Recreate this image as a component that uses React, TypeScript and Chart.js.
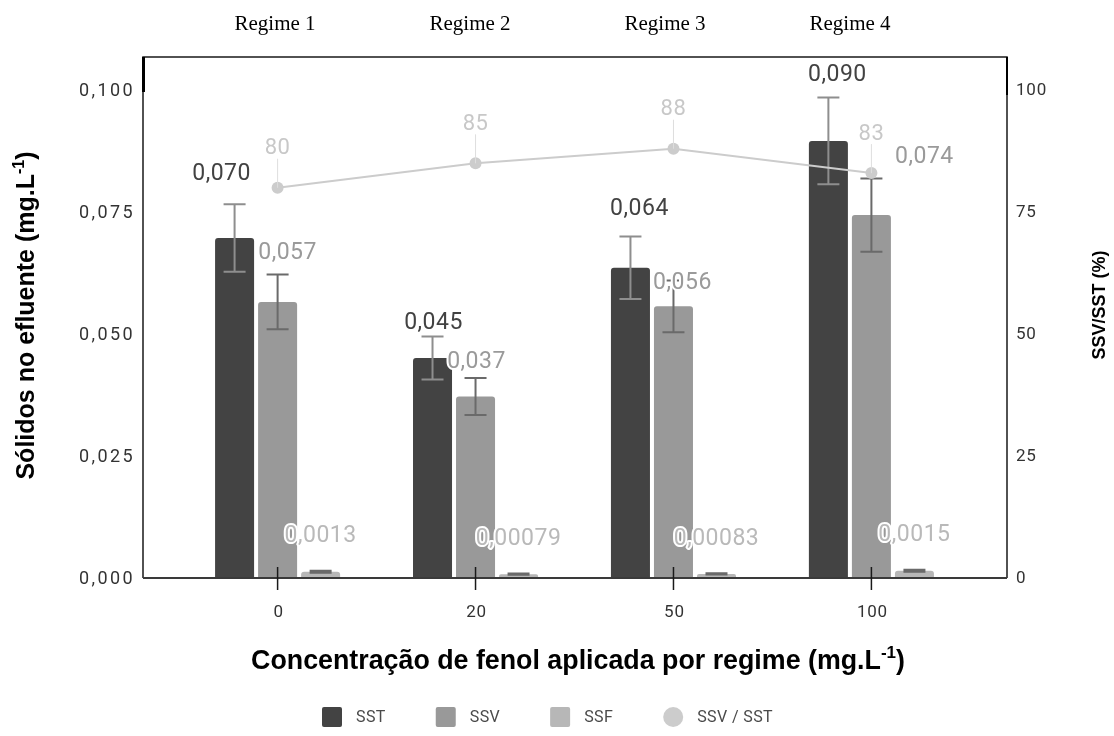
import React, { useEffect, useRef } from 'react';
import { Chart, registerables } from 'chart.js';

Chart.register(...registerables);

// ---------- data ----------
const categories = ['0', '20', '50', '100'];
const regimes = ['Regime 1', 'Regime 2', 'Regime 3', 'Regime 4'];
const sstValues = [0.0697, 0.0451, 0.0636, 0.0896];
const ssvValues = [0.0566, 0.0372, 0.0557, 0.0744];
const ssfValues = [0.0013, 0.00079, 0.00083, 0.0015];
const ratioValues = [80, 85, 88, 83];
const sstErrors = [0.0069, 0.0044, 0.0064, 0.0089];
const ssvErrors = [0.0056, 0.0038, 0.0053, 0.0075];
const ssfErrors = [0.0002, 0.00012, 0.00012, 0.0002];
const leftTicks = [0, 0.025, 0.05, 0.075, 0.1];
const rightTicks = [0, 25, 50, 75, 100];

// ---------- styles / layout ----------
const COLORS = { sst: '#434343', ssv: '#999999', ssf: '#b7b7b7', ratio: '#cccccc' };
const LABEL_COLORS = { sst: '#424242', ssv: '#9a9a9a', ssf: '#b9b9b9', ratio: '#c8c8c8' };
const ERR_COLORS = { sst: '#8e8e8e', ssv: '#6a6a6a', ssf: '#6a6a6a' };
const NUM_FONT = 'Roboto, "Noto Sans", "DejaVu Sans", sans-serif';
const TITLE_FONT = '"Liberation Sans", Arial, sans-serif';
const SERIF_FONT = '"Liberation Serif", "Times New Roman", serif';
const REGIME_X = [275, 470, 665, 850];
const SST_LABEL_SHIFT = [[-13, -31], [1, -14], [9, -28], [9, -23]];
const SSV_LABEL_SHIFT = [[10, -22], [1, -17], [9, 2], [53, -22]];

const fmtVal = (v: number) => v.toPrecision(2).replace('.', ',');
const pts = (arr: number[]) => arr.map((v, i) => ({ x: i, y: v }));

function drawRich(ctx: CanvasRenderingContext2D, parts: { t: string; sup?: boolean }[], cx: number, baseline: number, size: number) {
  const main = `bold ${size}px ${TITLE_FONT}`;
  const sup = `bold ${Math.round(size * 0.62)}px ${TITLE_FONT}`;
  let total = 0;
  const widths = parts.map((p) => {
    ctx.font = p.sup ? sup : main;
    const w = ctx.measureText(p.t).width;
    total += w;
    return w;
  });
  let x = cx - total / 2;
  ctx.textAlign = 'left';
  ctx.textBaseline = 'alphabetic';
  parts.forEach((p, i) => {
    ctx.font = p.sup ? sup : main;
    ctx.fillText(p.t, x, p.sup ? baseline - size * 0.4 : baseline);
    x += widths[i];
  });
}

function haloText(ctx: CanvasRenderingContext2D, text: string, x: number, y: number, color: string) {
  ctx.lineWidth = 4;
  ctx.lineJoin = 'round';
  ctx.strokeStyle = '#ffffff';
  ctx.strokeText(text, x, y);
  ctx.fillStyle = color;
  ctx.fillText(text, x, y);
}

const decorPlugin = {
  id: 'decor',
  afterDatasetDraw(chart: any, args: any) {
    const ds = chart.data.datasets[args.index];
    if (!ds.errors) return;
    const ctx: CanvasRenderingContext2D = chart.ctx;
    const ys = chart.scales.y;
    ctx.save();
    ctx.strokeStyle = ds.errorColor;
    ctx.lineWidth = 2;
    args.meta.data.forEach((bar: any, i: number) => {
      const v = ds.data[i].y;
      const e = ds.errors[i];
      const top = ys.getPixelForValue(v + e);
      const bot = ys.getPixelForValue(v - e);
      const half = 11;
      ctx.beginPath();
      ctx.moveTo(bar.x, top);
      ctx.lineTo(bar.x, bot);
      ctx.moveTo(bar.x - half, top);
      ctx.lineTo(bar.x + half, top);
      ctx.moveTo(bar.x - half, bot);
      ctx.lineTo(bar.x + half, bot);
      ctx.stroke();
    });
    ctx.restore();
  },
  afterDatasetsDraw(chart: any) {
    const ctx: CanvasRenderingContext2D = chart.ctx;
    const a = chart.chartArea;
    const ys = chart.scales.y;
    const y1s = chart.scales.y1;
    const xs = chart.scales.x;
    ctx.save();
    // frame
    ctx.strokeStyle = '#1a1a1a';
    ctx.lineWidth = 1.5;
    ctx.beginPath();
    ctx.moveTo(a.left, a.bottom);
    ctx.lineTo(a.left, a.top);
    ctx.lineTo(a.right, a.top);
    ctx.lineTo(a.right, a.bottom);
    ctx.stroke();
    ctx.strokeStyle = '#3a3a3a';
    ctx.lineWidth = 2;
    ctx.beginPath();
    ctx.moveTo(a.left, a.bottom);
    ctx.lineTo(a.right, a.bottom);
    ctx.stroke();
    ctx.fillStyle = '#000';
    ctx.fillRect(a.left - 1, a.top, 3, 35);
    ctx.fillRect(a.right - 1, a.top, 2, 38);
    // x tick marks crossing the axis
    ctx.strokeStyle = '#1a1a1a';
    ctx.lineWidth = 1.5;
    xs.ticks.forEach((t: any) => {
      const px = xs.getPixelForValue(t.value);
      ctx.beginPath();
      ctx.moveTo(px, a.bottom - 11);
      ctx.lineTo(px, a.bottom + 12);
      ctx.stroke();
    });

    // tick labels
    ctx.fillStyle = '#333';
    ctx.textBaseline = 'middle';
    ctx.font = `18px ${NUM_FONT}`;
    ctx.letterSpacing = '2.4px';
    ctx.textAlign = 'right';
    ys.ticks.forEach((t: any) => {
      ctx.fillText(Number(t.value).toFixed(3).replace('.', ','), a.left - 8, ys.getPixelForValue(t.value) + 1);
    });
    ctx.font = `17px ${NUM_FONT}`;
    ctx.letterSpacing = '0.8px';
    ctx.textAlign = 'left';
    y1s.ticks.forEach((t: any) => {
      ctx.fillText(String(t.value), a.right + 9, y1s.getPixelForValue(t.value) + 1);
    });
    ctx.textAlign = 'center';
    xs.ticks.forEach((t: any) => {
      ctx.fillText(categories[t.value], xs.getPixelForValue(t.value) + 1, a.bottom + 35);
    });

    // data labels
    ctx.textAlign = 'center';
    ctx.textBaseline = 'middle';
    ctx.letterSpacing = '0.5px';
    const labelSets = [
      { key: 'sst', shift: SST_LABEL_SHIFT },
      { key: 'ssv', shift: SSV_LABEL_SHIFT },
      { key: 'ssf', shift: null },
    ];
    chart.data.datasets.forEach((ds: any, di: number) => {
      const meta = chart.getDatasetMeta(di);
      if (ds.key === 'ratio') {
        ctx.font = `22px ${NUM_FONT}`;
        meta.data.forEach((p: any, i: number) => {
          ctx.strokeStyle = '#dedede';
          ctx.lineWidth = 1;
          ctx.beginPath();
          ctx.moveTo(p.x, p.y);
          ctx.lineTo(p.x, p.y - 29);
          ctx.stroke();
          haloText(ctx, String(ds.data[i].y), p.x, p.y - 39, LABEL_COLORS.ratio);
        });
        return;
      }
      const set = labelSets.find((s) => s.key === ds.key);
      if (!set) return;
      ctx.font = `23px ${NUM_FONT}`;
      meta.data.forEach((bar: any, i: number) => {
        const v = ds.data[i].y;
        const errTop = ys.getPixelForValue(v + ds.errors[i]);
        let x = bar.x;
        let y = errTop - 34;
        if (set.shift) {
          x += set.shift[i][0];
          y = errTop + set.shift[i][1] + 1;
        }
        haloText(ctx, fmtVal(v), x, y, (LABEL_COLORS as any)[ds.key]);
      });
    });
    ctx.restore();
  },
  afterDraw(chart: any) {
    const ctx: CanvasRenderingContext2D = chart.ctx;
    const a = chart.chartArea;
    ctx.save();
    ctx.letterSpacing = '0px';
    ctx.fillStyle = '#000';
    // left title
    ctx.save();
    ctx.translate(25, (a.top + a.bottom) / 2 - 2);
    ctx.rotate(-Math.PI / 2);
    drawRich(ctx, [{ t: 'Sólidos no efluente (mg.L' }, { t: '-1', sup: true }, { t: ')' }], 0, 9, 25);
    ctx.restore();
    // right title
    ctx.save();
    ctx.translate(1098, 305);
    ctx.rotate(-Math.PI / 2);
    drawRich(ctx, [{ t: 'SSV/SST (%)' }], 0, 7, 18);
    ctx.restore();
    // x title
    drawRich(ctx, [{ t: 'Concentração de fenol aplicada por regime (mg.L' }, { t: '-1', sup: true }, { t: ')' }], (a.left + a.right) / 2 + 3, 669, 26.8);
    // regime labels
    ctx.font = `21px ${SERIF_FONT}`;
    ctx.textAlign = 'center';
    ctx.textBaseline = 'alphabetic';
    regimes.forEach((r, i) => ctx.fillText(r, REGIME_X[i], 30));
    // legend
    ctx.font = `16px ${NUM_FONT}`;
    ctx.letterSpacing = '0.4px';
    ctx.textBaseline = 'middle';
    ctx.textAlign = 'left';
    let x = 322;
    const ly = 717;
    const order = ['sst', 'ssv', 'ssf', 'ratio'];
    order.forEach((k) => {
      const ds = chart.data.datasets.find((d: any) => d.key === k);
      ctx.fillStyle = (COLORS as any)[k];
      if (k === 'ratio') {
        ctx.beginPath();
        ctx.arc(x + 10, ly, 10, 0, Math.PI * 2);
        ctx.fill();
      } else {
        ctx.beginPath();
        (ctx as any).roundRect(x, ly - 10, 20, 20, 2);
        ctx.fill();
      }
      ctx.fillStyle = '#4a4a4a';
      ctx.fillText(ds.label, x + 34, ly + 1);
      x += 34 + ctx.measureText(ds.label).width + 50;
    });
    ctx.restore();
  },
};

export default function App() {
  const ref = useRef<HTMLCanvasElement>(null);
  useEffect(() => {
    const canvas = ref.current!;
    const chart = new Chart(canvas, {
      type: 'bar',
      data: {
        datasets: [
          { key: 'sst', label: 'SST', data: pts(sstValues), backgroundColor: COLORS.sst, errors: sstErrors, errorColor: ERR_COLORS.sst, yAxisID: 'y', order: 1 } as any,
          { key: 'ssv', label: 'SSV', data: pts(ssvValues), backgroundColor: COLORS.ssv, errors: ssvErrors, errorColor: ERR_COLORS.ssv, yAxisID: 'y', order: 1 } as any,
          { key: 'ssf', label: 'SSF', data: pts(ssfValues), backgroundColor: COLORS.ssf, errors: ssfErrors, errorColor: ERR_COLORS.ssf, yAxisID: 'y', order: 1 } as any,
          {
            key: 'ratio', type: 'line', label: 'SSV / SST', data: pts(ratioValues), yAxisID: 'y1', order: 0,
            borderColor: COLORS.ratio, backgroundColor: COLORS.ratio, borderWidth: 2, pointRadius: 6, pointBorderWidth: 0,
            pointBackgroundColor: COLORS.ratio,
          } as any,
        ],
      },
      options: {
        animation: false,
        responsive: true,
        maintainAspectRatio: false,
        layout: { padding: { top: 57, left: 0, right: 0, bottom: 0 } },
        datasets: {
          bar: { categoryPercentage: 0.652, barPercentage: 0.907, borderRadius: { topLeft: 3, topRight: 3 }, borderSkipped: 'bottom' } as any,
        },
        plugins: { legend: { display: false }, tooltip: { enabled: false } },
        scales: {
          x: {
            type: 'linear',
            min: -0.68,
            max: 3.685,
            offset: false,
            border: { display: false },
            grid: { display: false, offset: false, drawTicks: false },
            afterBuildTicks: (s: any) => { s.ticks = categories.map((_, i) => ({ value: i })); },
            afterFit: (s: any) => { s.height = 158; },
            ticks: { display: false },
          },
          y: {
            type: 'linear',
            position: 'left',
            min: 0,
            max: 0.1068,
            border: { display: false },
            grid: { display: false, drawTicks: false },
            afterBuildTicks: (s: any) => { s.ticks = leftTicks.map((v) => ({ value: v })); },
            afterFit: (s: any) => { s.width = 143; },
            ticks: { display: false },
          },
          y1: {
            type: 'linear',
            position: 'right',
            min: 0,
            max: 106.8,
            border: { display: false },
            grid: { display: false, drawTicks: false },
            afterBuildTicks: (s: any) => { s.ticks = rightTicks.map((v) => ({ value: v })); },
            afterFit: (s: any) => { s.width = 107; },
            ticks: { display: false },
          },
        },
      } as any,
      plugins: [decorPlugin],
    });
    return () => chart.destroy();
  }, []);
  return (
    <div style={{ position: 'fixed', left: 0, top: 0, width: 1114, height: 736, background: '#fff' }}>
      <canvas ref={ref} />
    </div>
  );
}
